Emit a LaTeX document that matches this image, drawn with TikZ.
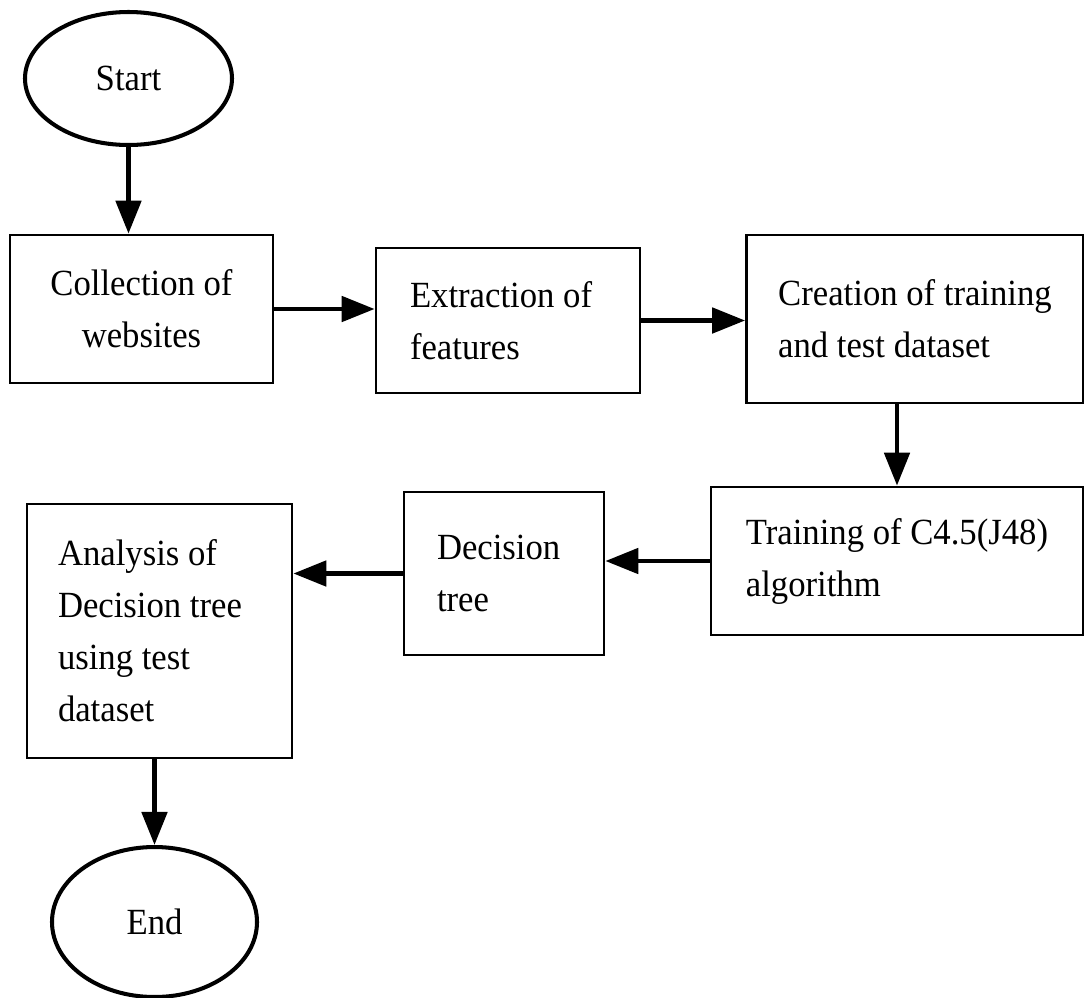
\documentclass[tikz,border=0pt]{standalone}
\usepackage{fontspec}
\setmainfont{Liberation Serif}[FakeStretch=0.94]
\usepackage{tikz}
\usetikzlibrary{arrows.meta,shapes.geometric}

\begin{document}
\begin{tikzpicture}[font=\fontsize{21pt}{29.6pt}\selectfont,
    stepbox/.style={draw,line width=1.5pt,inner ysep=0pt},
    term/.style={draw,ellipse,line width=2.3pt,inner sep=0pt},
    flow/.style={line width=2.8pt,-{Triangle[length=6.6mm,width=5mm]}}]
  \useasboundingbox (0,0) rectangle (21.68,-19.94);
  \node[term,minimum width=4.14cm,minimum height=2.66cm] (start) at (2.57,-1.57) {Start};
  \node[stepbox,align=center,minimum width=5.26cm,minimum height=2.96cm] (coll) at (2.83,-6.18) {Collection of\\websites};
  \node[stepbox,align=flush left,inner xsep=0.68cm,text width=3.92cm,minimum width=5.28cm,minimum height=2.9cm] (ext) at (10.16,-6.41) {Extraction of\\features};
  \node[stepbox,align=flush left,minimum width=6.74cm,minimum height=3.36cm] (cre) at (18.3,-6.38) {Creation of training\\and test dataset};
  \node[stepbox,align=flush left,minimum width=7.44cm,minimum height=2.96cm] (trn) at (17.94,-11.22) {Training of C4.5(J48)\\algorithm};
  \node[stepbox,align=flush left,inner xsep=0.66cm,text width=2.68cm,minimum width=4.0cm,minimum height=3.26cm] (dec) at (10.08,-11.47) {Decision\\tree};
  \node[stepbox,align=flush left,inner xsep=0.62cm,text width=4.06cm,minimum width=5.3cm,minimum height=5.08cm] (ana) at (3.19,-12.62) {Analysis of\\Decision tree\\using test\\dataset};
  \node[term,minimum width=4.1cm,minimum height=3.0cm] (end) at (3.09,-18.44) {End};

  \draw[flow] (start) -- (start |- coll.north);
  \draw[flow] (coll.east) -- (coll.east -| ext.west);
  \draw[flow] (ext.east) -- (ext.east -| cre.west);
  \draw[flow] (trn.north |- cre.south) -- (trn.north);
  \draw[flow] (trn.west) -- (trn.west -| dec.east);
  \draw[flow] (dec.west) -- (dec.west -| ana.east);
  \draw[flow] (end.north |- ana.south) -- (end.north);
\end{tikzpicture}
\end{document}
